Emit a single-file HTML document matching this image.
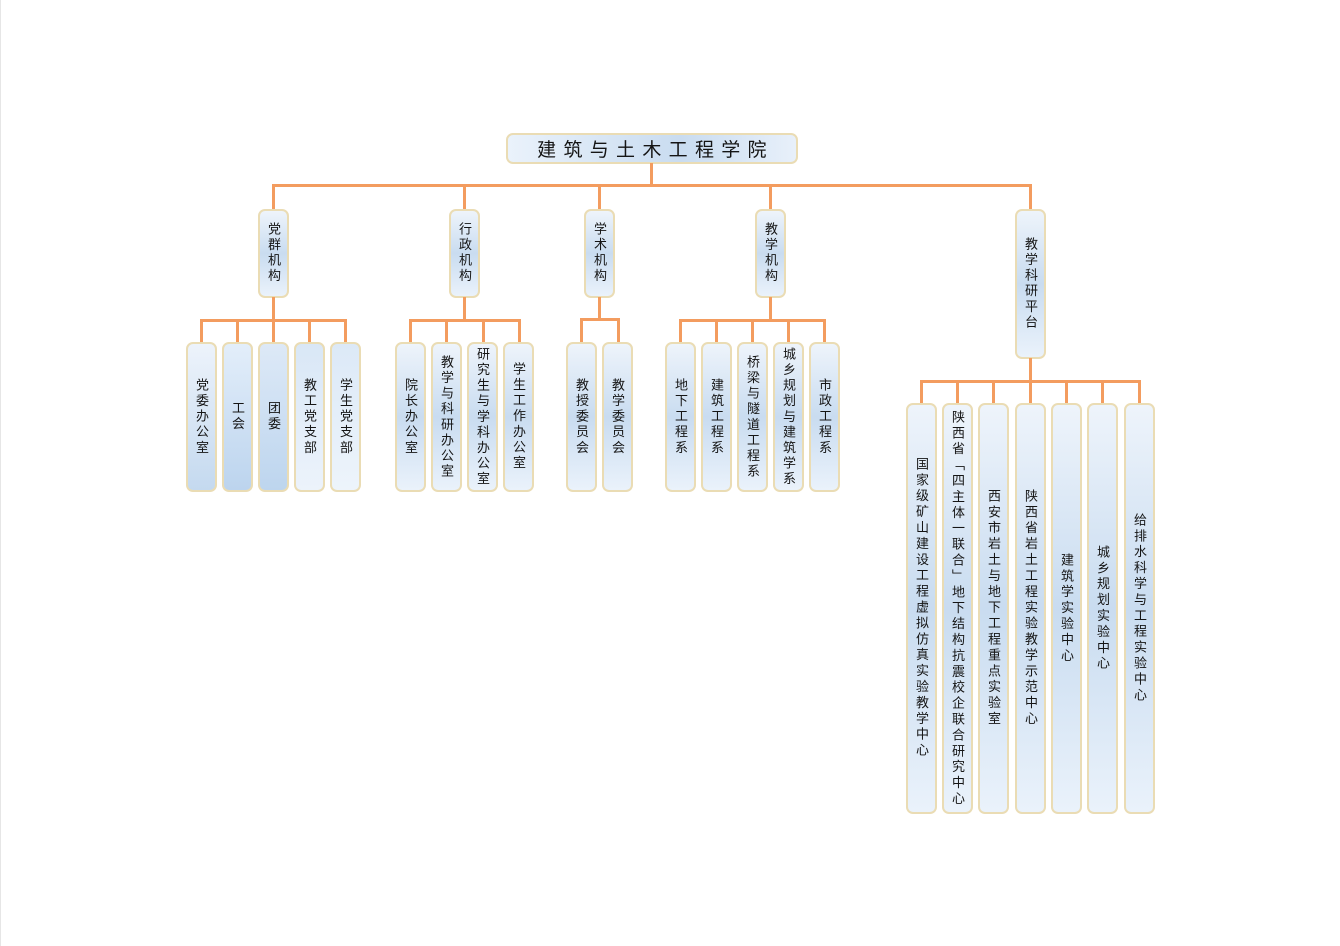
<!DOCTYPE html>
<html><head><meta charset="utf-8"><style>
body{margin:0;width:1340px;height:946px;background:#fff;position:relative;overflow:hidden;font-family:"Liberation Sans","Noto Sans CJK SC",sans-serif;color:#151515}
.l{position:absolute;background:#f39c5f}
.b{position:absolute;box-sizing:border-box;border:2px solid #eadcb4;border-radius:7px;background:linear-gradient(90deg,#e9f1fa 0%,#c9dcf0 55%,#e4eef9 100%);display:flex;align-items:center;justify-content:center}
.v{writing-mode:vertical-rl;font-size:13px;letter-spacing:2.6px;line-height:1;white-space:nowrap}
.lv{background:linear-gradient(180deg,#eef4fb 0%,#c9dcf0 50%,#eaf2fb 100%)}
</style></head><body>
<div style="position:absolute;left:0;top:0;width:1px;height:946px;background:#e6e6e6"></div>
<div class="b" style="left:506px;top:133px;width:292px;height:31px;background:linear-gradient(90deg,#eaf2fb,#c9dcf0 60%,#e8f0fa)"><span style="font-size:19px;letter-spacing:7.3px;margin-left:7px">建筑与土木工程学院</span></div>
<div class="l" style="left:650px;top:163px;width:3px;height:23px"></div>
<div class="l" style="left:272px;top:184px;width:760px;height:3px"></div>
<div class="l" style="left:272px;top:184px;width:3px;height:26px"></div>
<div class="l" style="left:463px;top:184px;width:3px;height:26px"></div>
<div class="l" style="left:598px;top:184px;width:3px;height:26px"></div>
<div class="l" style="left:769px;top:184px;width:3px;height:26px"></div>
<div class="l" style="left:1029px;top:184px;width:3px;height:26px"></div>

<div class="b lv" style="left:258px;top:209px;width:31px;height:89px"><span class="v">党群机构</span></div>
<div class="b lv" style="left:449px;top:209px;width:31px;height:89px"><span class="v">行政机构</span></div>
<div class="b lv" style="left:584px;top:209px;width:31px;height:89px"><span class="v">学术机构</span></div>
<div class="b lv" style="left:755px;top:209px;width:31px;height:89px"><span class="v">教学机构</span></div>
<div class="b lv" style="left:1015px;top:209px;width:31px;height:150px"><span class="v">教学科研平台</span></div>

<div class="l" style="left:272px;top:297px;width:3px;height:24px"></div>
<div class="l" style="left:200px;top:319px;width:147px;height:3px"></div>
<div class="l" style="left:463px;top:297px;width:3px;height:24px"></div>
<div class="l" style="left:409px;top:319px;width:112px;height:3px"></div>
<div class="l" style="left:598px;top:297px;width:3px;height:24px"></div>
<div class="l" style="left:580px;top:318px;width:40px;height:3px"></div>
<div class="l" style="left:769px;top:297px;width:3px;height:24px"></div>
<div class="l" style="left:679px;top:319px;width:147px;height:3px"></div>
<div class="l" style="left:1029px;top:358px;width:3px;height:24px"></div>
<div class="l" style="left:920px;top:380px;width:221px;height:3px"></div>

<div class="l" style="left:200px;top:319px;width:3px;height:24px"></div>
<div class="l" style="left:236px;top:319px;width:3px;height:24px"></div>
<div class="l" style="left:272px;top:319px;width:3px;height:24px"></div>
<div class="l" style="left:308px;top:319px;width:3px;height:24px"></div>
<div class="l" style="left:344px;top:319px;width:3px;height:24px"></div>
<div class="l" style="left:409px;top:319px;width:3px;height:24px"></div>
<div class="l" style="left:445px;top:319px;width:3px;height:24px"></div>
<div class="l" style="left:482px;top:319px;width:3px;height:24px"></div>
<div class="l" style="left:518px;top:319px;width:3px;height:24px"></div>
<div class="l" style="left:580px;top:318px;width:3px;height:25px"></div>
<div class="l" style="left:617px;top:318px;width:3px;height:25px"></div>
<div class="l" style="left:679px;top:319px;width:3px;height:24px"></div>
<div class="l" style="left:715px;top:319px;width:3px;height:24px"></div>
<div class="l" style="left:751px;top:319px;width:3px;height:24px"></div>
<div class="l" style="left:787px;top:319px;width:3px;height:24px"></div>
<div class="l" style="left:823px;top:319px;width:3px;height:24px"></div>
<div class="l" style="left:920px;top:380px;width:3px;height:24px"></div>
<div class="l" style="left:956px;top:380px;width:3px;height:24px"></div>
<div class="l" style="left:992px;top:380px;width:3px;height:24px"></div>
<div class="l" style="left:1029px;top:380px;width:3px;height:24px"></div>
<div class="l" style="left:1065px;top:380px;width:3px;height:24px"></div>
<div class="l" style="left:1101px;top:380px;width:3px;height:24px"></div>
<div class="l" style="left:1138px;top:380px;width:3px;height:24px"></div>

<div class="b" style="left:186px;top:342px;width:31px;height:150px;background:linear-gradient(180deg,#edf3fb,#c4d9ef)"><span class="v">党委办公室</span></div>
<div class="b" style="left:222px;top:342px;width:31px;height:150px;background:linear-gradient(180deg,#e3eefa,#bcd4ee)"><span class="v">工会</span></div>
<div class="b" style="left:258px;top:342px;width:31px;height:150px;background:linear-gradient(180deg,#dde9f7,#bdd5ee)"><span class="v">团委</span></div>
<div class="b" style="left:294px;top:342px;width:31px;height:150px;background:linear-gradient(180deg,#d9e7f6,#ecf3fb)"><span class="v">教工党支部</span></div>
<div class="b" style="left:330px;top:342px;width:31px;height:150px;background:linear-gradient(180deg,#dce9f7,#edf4fb)"><span class="v">学生党支部</span></div>

<div class="b lv" style="left:395px;top:342px;width:31px;height:150px"><span class="v">院长办公室</span></div>
<div class="b lv" style="left:431px;top:342px;width:31px;height:150px"><span class="v">教学与科研办公室</span></div>
<div class="b lv" style="left:467px;top:342px;width:31px;height:150px"><span class="v">研究生与学科办公室</span></div>
<div class="b lv" style="left:503px;top:342px;width:31px;height:150px"><span class="v">学生工作办公室</span></div>

<div class="b lv" style="left:566px;top:342px;width:31px;height:150px"><span class="v">教授委员会</span></div>
<div class="b lv" style="left:602px;top:342px;width:31px;height:150px"><span class="v">教学委员会</span></div>

<div class="b lv" style="left:665px;top:342px;width:31px;height:150px"><span class="v">地下工程系</span></div>
<div class="b lv" style="left:701px;top:342px;width:31px;height:150px"><span class="v">建筑工程系</span></div>
<div class="b lv" style="left:737px;top:342px;width:31px;height:150px"><span class="v">桥梁与隧道工程系</span></div>
<div class="b lv" style="left:773px;top:342px;width:31px;height:150px"><span class="v">城乡规划与建筑学系</span></div>
<div class="b lv" style="left:809px;top:342px;width:31px;height:150px"><span class="v">市政工程系</span></div>

<div class="b lv" style="left:906px;top:403px;width:31px;height:411px"><span class="v" style="letter-spacing:2.9px">国家级矿山建设工程虚拟仿真实验教学中心</span></div>
<div class="b lv" style="left:942px;top:403px;width:31px;height:411px"><span class="v" style="letter-spacing:2.9px">陕西省﹁四主体一联合﹂地下结构抗震校企联合研究中心</span></div>
<div class="b lv" style="left:978px;top:403px;width:31px;height:411px"><span class="v" style="letter-spacing:2.9px">西安市岩土与地下工程重点实验室</span></div>
<div class="b lv" style="left:1015px;top:403px;width:31px;height:411px"><span class="v" style="letter-spacing:2.9px">陕西省岩土工程实验教学示范中心</span></div>
<div class="b lv" style="left:1051px;top:403px;width:31px;height:411px"><span class="v" style="letter-spacing:2.9px">建筑学实验中心</span></div>
<div class="b lv" style="left:1087px;top:403px;width:31px;height:411px"><span class="v" style="letter-spacing:2.9px">城乡规划实验中心</span></div>
<div class="b lv" style="left:1124px;top:403px;width:31px;height:411px"><span class="v" style="letter-spacing:2.9px">给排水科学与工程实验中心</span></div>
</body></html>
